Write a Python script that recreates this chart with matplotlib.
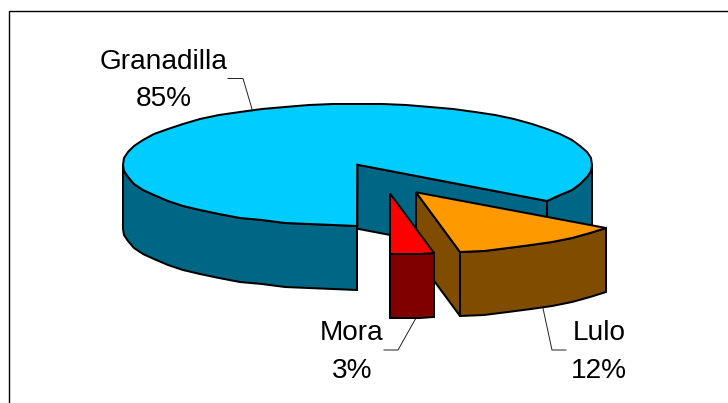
import matplotlib
matplotlib.use("Agg")
import matplotlib.pyplot as plt
import numpy as np

# Data
categories = ["Granadilla", "Lulo", "Mora"]
values = [85, 12, 3]
pct_labels = ["85%", "12%", "3%"]

# Colours per slice: top, side
top_colors = ["#00CCFF", "#FF9900", "#FF0000"]
side_colors = ["#006685", "#804D00", "#800000"]

# Layout in pixels (exploded centres of each slice)
centers = [(357.3, 164.7), (416.0, 192.3), (390.0, 193.5)]
rx, ry = 234.5, 61.0
depth = 64.0
start_angle = -90.0

plt.rcParams["font.family"] = ["Liberation Sans", "DejaVu Sans"]

fig = plt.figure(figsize=(7.28, 4.03), dpi=100)
ax = fig.add_axes([0, 0, 1, 1])
ax.set_xlim(0, 728)
ax.set_ylim(403, 0)
ax.axis("off")

# Outer frame: only left and top show
ax.plot([8.5, 8.5, 728], [403, 10.5, 10.5], color="black", lw=1.0, solid_joinstyle="miter")


def rim(cx, cy, t):
    t = np.radians(t)
    # whole pixels and a coarse arc give the old office-chart rim
    return np.round(cx + rx * np.cos(t)), np.round(cy - ry * np.sin(t))


def draw_slice(cx, cy, t0, t1, top, side, z):
    style = dict(edgecolor="black", lw=1.45, joinstyle="miter", zorder=z)
    # cut faces, only the ones turned towards the viewer
    for t, normal in [(t0, t0 + 90), (t1, t1 - 90)]:
        if np.sin(np.radians(normal)) < -1e-6:
            x, y = rim(cx, cy, t)
            ax.fill([cx, x, x, cx], [cy, y, y + depth, cy + depth], facecolor=side, **style)
    # outer wall, front half of the ellipse only
    steps = max(int(abs(t1 - t0) / 6), 3)
    ts = np.linspace(t0, t1, steps + 1)
    front = np.sin(np.radians(ts)) <= 1e-9
    breaks = np.flatnonzero(np.diff(front.astype(int)))
    for run in np.split(np.arange(len(ts)), breaks + 1):
        if front[run[0]] and len(run) > 1:
            x, y = rim(cx, cy, ts[run])
            ax.fill(np.r_[x, x[::-1]], np.r_[y, y[::-1] + depth], facecolor=side, **style)
    # top
    x, y = rim(cx, cy, ts)
    ax.fill(np.r_[cx, x], np.r_[cy, y], facecolor=top, **style)


# Slices run clockwise from the front of the pie
angle = start_angle
for i, val in enumerate(values):
    sweep = val / sum(values) * 360
    draw_slice(centers[i][0], centers[i][1], angle, angle - sweep,
               top_colors[i], side_colors[i], 2 + i)
    angle -= sweep

# Leader lines
leaders = [
    ([228, 243, 252], [78.5, 78.5, 109]),
    ([566, 552, 542.5], [350, 350, 306]),
    ([384, 398, 416], [350, 350, 318]),
]
for lx, ly in leaders:
    ax.plot(lx, ly, color="#222222", lw=0.7, zorder=1)

# Labels
label_pos = [(164, 69, 106.5), (599, 340.5, 377.5), (352, 340.5, 377.5)]
for name, pct, (tx, y1, y2) in zip(categories, pct_labels, label_pos):
    ax.text(tx, y1, name, ha="center", va="baseline", fontsize=20.2, color="black")
    ax.text(tx, y2, pct, ha="center", va="baseline", fontsize=20.2, color="black")

fig.savefig("out.png", dpi=100)
